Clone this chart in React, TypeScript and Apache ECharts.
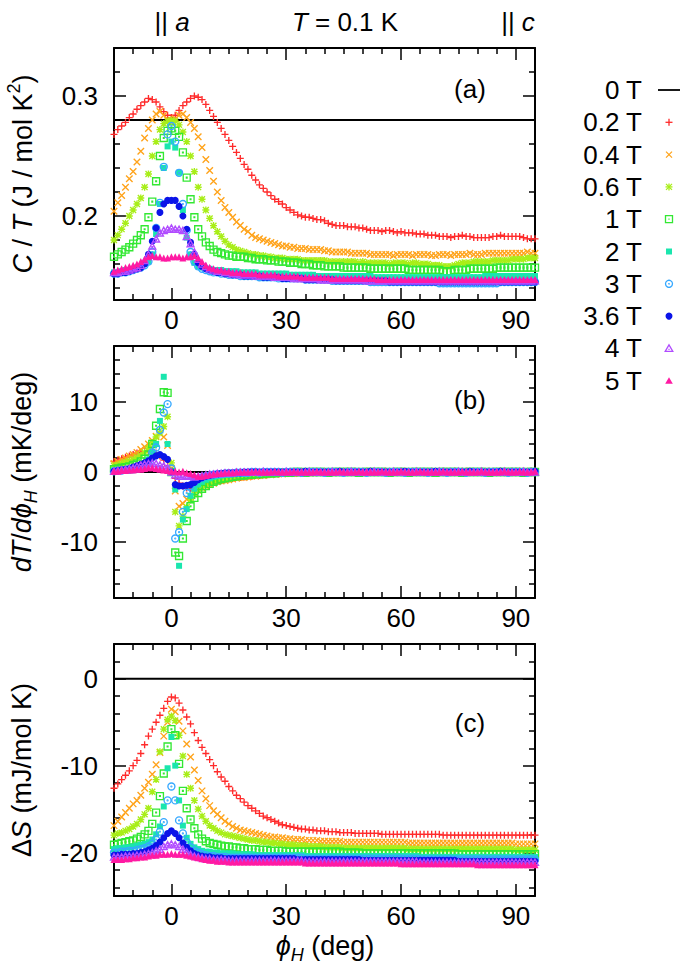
import React, { useEffect, useRef } from "react";
import * as echarts from "echarts";

const FONT = '"Liberation Sans", Arial, Helvetica, sans-serif';

const phi = [
  -15, -14, -13, -12, -11, -10, -9, -8, -7, -6, -5, -4, -3, -2, -1,
  0, 1, 2, 3, 4, 5, 6, 7, 8, 9, 10, 11, 12, 13, 14,
  15, 16, 17, 18, 19, 20, 21, 22, 23, 24, 25, 26, 27, 28, 29,
  30, 31, 32, 33, 34, 35, 36, 37, 38, 39, 40, 41, 42, 43, 44,
  45, 46, 47, 48, 49, 50, 51, 52, 53, 54, 55, 56, 57, 58, 59,
  60, 61, 62, 63, 64, 65, 66, 67, 68, 69, 70, 71, 72, 73, 74,
  75, 76, 77, 78, 79, 80, 81, 82, 83, 84, 85, 86, 87, 88, 89,
  90, 91, 92, 93, 94, 95,
];

const fields = ["0 T", "0.2 T", "0.4 T", "0.6 T", "1 T", "2 T", "3 T", "3.6 T", "4 T", "5 T"];
const colors = ["#000000", "#ff2b2b", "#ffa31a", "#a8ee18", "#33e833", "#1ae6ae", "#35a8ff", "#0b14e8", "#b14cff", "#ff1aa3"];

const xMajor = [0, 30, 60, 90];
const xMinor = [-10, -5, 5, 10, 15, 20, 25, 35, 40, 45, 50, 55, 65, 70, 75, 80, 85];
const yMajorA = [0.2, 0.3];
const yMinorA = [0.14, 0.16, 0.18, 0.22, 0.24, 0.26, 0.28, 0.32];
const yMajorB = [-10, 0, 10];
const yMinorB = [-16, -14, -12, -8, -6, -4, -2, 2, 4, 6, 8, 12, 14, 16];
const yMajorC = [-20, -10, 0];
const yMinorC = [-24, -22, -18, -16, -14, -12, -8, -6, -4, -2, 2];

const zeroPhi = [-15, 95];
const zeroA = [0.28, 0.28];
const zeroB = [0, 0];
const zeroC = [0, 0];

// Panel (a): C/T (J / mol K^2)
const cA02 = [
  0.268, 0.272, 0.275, 0.278, 0.282, 0.285, 0.289, 0.292, 0.295, 0.298, 0.297, 0.295, 0.291, 0.287, 0.284,
  0.282, 0.284, 0.288, 0.292, 0.295, 0.298, 0.300, 0.299, 0.297, 0.293, 0.288, 0.283, 0.278, 0.273, 0.268,
  0.263, 0.258, 0.253, 0.248, 0.243, 0.239, 0.234, 0.230, 0.226, 0.223, 0.220, 0.217, 0.214, 0.212, 0.210,
  0.207, 0.205, 0.203, 0.201, 0.200, 0.199, 0.199, 0.198, 0.197, 0.197, 0.196, 0.194, 0.193, 0.192, 0.192,
  0.192, 0.191, 0.191, 0.191, 0.190, 0.190, 0.189, 0.188, 0.188, 0.188, 0.187, 0.188, 0.188, 0.187, 0.186,
  0.187, 0.186, 0.186, 0.186, 0.185, 0.185, 0.185, 0.184, 0.184, 0.184, 0.183, 0.183, 0.183, 0.182, 0.183,
  0.183, 0.184, 0.183, 0.183, 0.182, 0.182, 0.182, 0.182, 0.182, 0.183, 0.183, 0.184, 0.183, 0.183, 0.183,
  0.183, 0.183, 0.182, 0.181, 0.181, 0.181,
];
const cA04 = [
  0.204, 0.211, 0.217, 0.224, 0.231, 0.237, 0.245, 0.254, 0.265, 0.273, 0.280, 0.285, 0.287, 0.284, 0.280,
  0.278, 0.281, 0.284, 0.285, 0.282, 0.278, 0.273, 0.266, 0.257, 0.247, 0.238, 0.229, 0.220, 0.213, 0.207,
  0.203, 0.199, 0.195, 0.192, 0.189, 0.187, 0.184, 0.182, 0.181, 0.180, 0.179, 0.178, 0.177, 0.176, 0.175,
  0.175, 0.174, 0.174, 0.173, 0.173, 0.173, 0.172, 0.172, 0.172, 0.172, 0.171, 0.171, 0.170, 0.170, 0.170,
  0.170, 0.170, 0.169, 0.169, 0.169, 0.169, 0.169, 0.168, 0.168, 0.168, 0.168, 0.168, 0.168, 0.167, 0.168,
  0.168, 0.168, 0.168, 0.167, 0.168, 0.168, 0.168, 0.168, 0.167, 0.167, 0.168, 0.168, 0.168, 0.167, 0.168,
  0.168, 0.168, 0.168, 0.169, 0.168, 0.168, 0.168, 0.169, 0.169, 0.169, 0.169, 0.169, 0.169, 0.169, 0.169,
  0.169, 0.169, 0.169, 0.170, 0.169, 0.169,
];
const cA06 = [
  0.180, 0.184, 0.189, 0.194, 0.200, 0.205, 0.210, 0.215, 0.224, 0.235, 0.250, 0.262, 0.272, 0.277, 0.279,
  0.280, 0.279, 0.276, 0.270, 0.262, 0.250, 0.237, 0.224, 0.214, 0.205, 0.198, 0.192, 0.187, 0.183, 0.179,
  0.176, 0.174, 0.172, 0.171, 0.170, 0.169, 0.168, 0.168, 0.167, 0.167, 0.166, 0.166, 0.165, 0.165, 0.165,
  0.164, 0.164, 0.164, 0.164, 0.163, 0.163, 0.163, 0.163, 0.163, 0.163, 0.163, 0.162, 0.162, 0.162, 0.162,
  0.162, 0.162, 0.162, 0.162, 0.161, 0.162, 0.161, 0.161, 0.161, 0.161, 0.161, 0.161, 0.160, 0.161, 0.161,
  0.161, 0.161, 0.160, 0.161, 0.161, 0.160, 0.160, 0.160, 0.159, 0.159, 0.159, 0.158, 0.158, 0.158, 0.159,
  0.160, 0.161, 0.161, 0.161, 0.162, 0.162, 0.162, 0.162, 0.162, 0.163, 0.163, 0.163, 0.163, 0.163, 0.164,
  0.164, 0.164, 0.164, 0.165, 0.165, 0.165,
];
const cA1 = [
  0.166, 0.168, 0.170, 0.172, 0.174, 0.177, 0.180, 0.184, 0.189, 0.199, 0.212, 0.229, 0.250, 0.265, 0.271,
  0.273, 0.271, 0.266, 0.253, 0.232, 0.214, 0.199, 0.189, 0.183, 0.178, 0.175, 0.172, 0.170, 0.169, 0.168,
  0.167, 0.167, 0.166, 0.166, 0.166, 0.165, 0.165, 0.164, 0.164, 0.164, 0.163, 0.163, 0.163, 0.162, 0.162,
  0.162, 0.161, 0.161, 0.161, 0.160, 0.160, 0.160, 0.159, 0.159, 0.159, 0.158, 0.158, 0.158, 0.158, 0.158,
  0.157, 0.157, 0.157, 0.157, 0.157, 0.157, 0.157, 0.156, 0.156, 0.156, 0.156, 0.156, 0.156, 0.156, 0.156,
  0.156, 0.156, 0.155, 0.155, 0.155, 0.155, 0.155, 0.155, 0.155, 0.155, 0.155, 0.154, 0.154, 0.154, 0.155,
  0.155, 0.155, 0.155, 0.156, 0.156, 0.156, 0.156, 0.156, 0.156, 0.156, 0.157, 0.157, 0.157, 0.157, 0.157,
  0.157, 0.157, 0.157, 0.157, 0.157, 0.157,
];
const cA2 = [
  0.153, 0.153, 0.154, 0.155, 0.155, 0.156, 0.157, 0.158, 0.160, 0.162, 0.168, 0.185, 0.210, 0.240, 0.258,
  0.262, 0.257, 0.236, 0.205, 0.182, 0.168, 0.161, 0.158, 0.157, 0.156, 0.156, 0.155, 0.155, 0.155, 0.154,
  0.154, 0.154, 0.154, 0.153, 0.153, 0.153, 0.153, 0.153, 0.152, 0.152, 0.152, 0.152, 0.152, 0.152, 0.152,
  0.152, 0.151, 0.151, 0.151, 0.151, 0.151, 0.151, 0.151, 0.150, 0.150, 0.150, 0.150, 0.150, 0.150, 0.150,
  0.150, 0.150, 0.150, 0.150, 0.150, 0.150, 0.150, 0.150, 0.149, 0.149, 0.149, 0.149, 0.149, 0.149, 0.149,
  0.149, 0.149, 0.149, 0.149, 0.149, 0.149, 0.149, 0.149, 0.149, 0.149, 0.149, 0.149, 0.149, 0.149, 0.149,
  0.149, 0.149, 0.149, 0.149, 0.149, 0.149, 0.149, 0.150, 0.150, 0.150, 0.150, 0.150, 0.150, 0.150, 0.150,
  0.150, 0.150, 0.150, 0.150, 0.150, 0.150,
];
const cA3 = [
  0.152, 0.152, 0.153, 0.153, 0.154, 0.155, 0.156, 0.157, 0.159, 0.162, 0.170, 0.190, 0.211, 0.241, 0.268,
  0.275, 0.262, 0.236, 0.210, 0.188, 0.170, 0.162, 0.158, 0.156, 0.155, 0.154, 0.153, 0.153, 0.152, 0.152,
  0.151, 0.151, 0.151, 0.150, 0.150, 0.150, 0.150, 0.150, 0.149, 0.149, 0.149, 0.149, 0.149, 0.148, 0.148,
  0.148, 0.148, 0.148, 0.148, 0.148, 0.147, 0.147, 0.147, 0.147, 0.147, 0.147, 0.147, 0.146, 0.146, 0.146,
  0.146, 0.146, 0.146, 0.146, 0.146, 0.146, 0.146, 0.145, 0.145, 0.145, 0.145, 0.145, 0.145, 0.145, 0.145,
  0.145, 0.145, 0.145, 0.145, 0.145, 0.145, 0.145, 0.145, 0.145, 0.145, 0.144, 0.144, 0.144, 0.144, 0.144,
  0.144, 0.144, 0.144, 0.144, 0.144, 0.144, 0.144, 0.144, 0.144, 0.144, 0.144, 0.145, 0.145, 0.145, 0.145,
  0.145, 0.145, 0.145, 0.145, 0.145, 0.145,
];
const cA36 = [
  0.152, 0.152, 0.153, 0.153, 0.154, 0.155, 0.156, 0.157, 0.160, 0.168, 0.179, 0.190, 0.203, 0.210, 0.213,
  0.213, 0.213, 0.208, 0.200, 0.189, 0.178, 0.168, 0.161, 0.158, 0.156, 0.155, 0.154, 0.153, 0.153, 0.152,
  0.152, 0.151, 0.151, 0.151, 0.150, 0.150, 0.150, 0.150, 0.150, 0.149, 0.149, 0.149, 0.149, 0.149, 0.148,
  0.148, 0.148, 0.148, 0.148, 0.148, 0.147, 0.147, 0.147, 0.147, 0.147, 0.147, 0.147, 0.147, 0.146, 0.146,
  0.146, 0.146, 0.146, 0.146, 0.146, 0.146, 0.146, 0.146, 0.146, 0.146, 0.146, 0.146, 0.145, 0.145, 0.145,
  0.145, 0.145, 0.145, 0.145, 0.145, 0.145, 0.145, 0.145, 0.145, 0.145, 0.145, 0.145, 0.145, 0.145, 0.145,
  0.145, 0.145, 0.145, 0.145, 0.145, 0.145, 0.145, 0.145, 0.145, 0.145, 0.145, 0.145, 0.145, 0.145, 0.145,
  0.145, 0.145, 0.145, 0.145, 0.145, 0.145,
];
const cA4 = [
  0.153, 0.153, 0.154, 0.154, 0.155, 0.156, 0.157, 0.159, 0.163, 0.168, 0.175, 0.181, 0.186, 0.188, 0.189,
  0.190, 0.189, 0.189, 0.188, 0.183, 0.177, 0.170, 0.164, 0.160, 0.158, 0.156, 0.155, 0.154, 0.154, 0.153,
  0.153, 0.152, 0.152, 0.151, 0.151, 0.151, 0.151, 0.150, 0.150, 0.150, 0.150, 0.150, 0.149, 0.149, 0.149,
  0.149, 0.149, 0.148, 0.148, 0.148, 0.148, 0.148, 0.148, 0.148, 0.147, 0.147, 0.147, 0.147, 0.147, 0.147,
  0.147, 0.147, 0.147, 0.147, 0.147, 0.147, 0.146, 0.146, 0.146, 0.146, 0.146, 0.146, 0.146, 0.146, 0.146,
  0.146, 0.146, 0.146, 0.146, 0.146, 0.146, 0.146, 0.146, 0.146, 0.146, 0.146, 0.146, 0.146, 0.146, 0.146,
  0.146, 0.146, 0.146, 0.146, 0.146, 0.146, 0.146, 0.146, 0.146, 0.146, 0.146, 0.146, 0.146, 0.146, 0.146,
  0.146, 0.146, 0.146, 0.146, 0.146, 0.146,
];
const cA5 = [
  0.154, 0.155, 0.156, 0.157, 0.158, 0.159, 0.160, 0.162, 0.164, 0.166, 0.167, 0.166, 0.166, 0.165, 0.165,
  0.166, 0.166, 0.166, 0.165, 0.166, 0.166, 0.167, 0.165, 0.162, 0.159, 0.157, 0.156, 0.155, 0.155, 0.154,
  0.154, 0.153, 0.153, 0.153, 0.152, 0.152, 0.152, 0.152, 0.151, 0.151, 0.151, 0.151, 0.151, 0.150, 0.150,
  0.150, 0.150, 0.150, 0.150, 0.149, 0.149, 0.149, 0.149, 0.149, 0.149, 0.149, 0.149, 0.148, 0.148, 0.148,
  0.148, 0.148, 0.148, 0.148, 0.148, 0.148, 0.148, 0.148, 0.148, 0.147, 0.147, 0.147, 0.147, 0.147, 0.147,
  0.147, 0.147, 0.147, 0.147, 0.147, 0.147, 0.147, 0.147, 0.147, 0.147, 0.147, 0.147, 0.147, 0.147, 0.147,
  0.147, 0.147, 0.147, 0.147, 0.147, 0.147, 0.147, 0.147, 0.147, 0.147, 0.147, 0.147, 0.147, 0.147, 0.147,
  0.147, 0.147, 0.147, 0.147, 0.147, 0.147,
];

// Panel (b): dT/dphi_H (mK/deg)
const dB02 = [
  1.5, 1.7, 1.9, 2.1, 2.3, 2.5, 2.7, 2.8, 2.9, 3.0, 2.9, 2.7, 2.3, 1.7, 0.9,
  0.0, -0.9, -1.6, -2.0, -2.3, -2.4, -2.3, -2.2, -2.0, -1.8, -1.6, -1.4, -1.3, -1.2, -1.1,
  -1.0, -0.9, -0.8, -0.8, -0.7, -0.6, -0.6, -0.5, -0.5, -0.4, -0.4, -0.3, -0.3, -0.3, -0.2,
  -0.2, -0.2, -0.2, -0.1, -0.1, -0.1, -0.1, -0.1, -0.1, 0.0, 0.0, -0.1, 0.0, 0.0, 0.0,
  0.0, 0.1, 0.0, 0.0, -0.1, 0.0, 0.0, 0.1, 0.0, 0.0, 0.0, 0.1, 0.0, 0.0, 0.0,
  0.1, 0.0, 0.0, 0.0, 0.1, 0.0, 0.0, 0.0, 0.1, 0.0, 0.0, 0.1, 0.0, 0.0, 0.1,
  0.0, 0.0, 0.1, 0.0, 0.0, 0.0, 0.1, 0.0, 0.1, 0.0, 0.0, 0.1, 0.0, 0.0, 0.1,
  0.0, 0.1, 0.0, 0.0, 0.1, 0.0,
];
const dB04 = [
  1.2, 1.5, 1.8, 2.0, 2.3, 2.5, 2.8, 3.2, 3.6, 4.0, 4.5, 5.1, 5.5, 5.0, 3.8,
  0.5, -2.7, -4.9, -4.5, -3.9, -3.5, -3.0, -2.6, -2.3, -2.0, -1.8, -1.6, -1.4, -1.3, -1.2,
  -1.1, -1.0, -0.9, -0.8, -0.8, -0.7, -0.6, -0.6, -0.5, -0.5, -0.4, -0.4, -0.3, -0.3, -0.3,
  -0.2, -0.2, -0.2, -0.2, -0.1, -0.1, -0.1, -0.1, 0.0, 0.0, 0.0, -0.1, 0.0, 0.0, 0.0,
  0.0, 0.0, 0.1, 0.0, 0.0, 0.0, 0.0, 0.1, 0.0, 0.0, 0.1, 0.0, 0.0, 0.0, 0.1,
  0.0, 0.0, 0.1, 0.0, 0.0, 0.1, 0.0, 0.0, 0.0, 0.1, 0.0, 0.0, 0.1, 0.0, 0.0,
  0.1, 0.0, 0.0, 0.1, 0.0, 0.0, 0.0, 0.1, 0.0, 0.0, 0.1, 0.0, 0.0, 0.1, 0.0,
  0.0, 0.1, 0.0, 0.1, 0.0, 0.0,
];
const dB06 = [
  0.9, 1.0, 1.2, 1.4, 1.6, 1.8, 2.1, 2.4, 2.8, 3.4, 4.2, 5.0, 5.6, 6.5, 7.9,
  1.3, -5.7, -7.7, -6.3, -5.0, -4.0, -3.2, -2.6, -2.2, -1.9, -1.6, -1.4, -1.2, -1.0, -0.9,
  -0.8, -0.7, -0.7, -0.6, -0.5, -0.5, -0.4, -0.4, -0.3, -0.3, -0.3, -0.2, -0.2, -0.2, -0.1,
  -0.1, -0.1, -0.1, -0.1, 0.0, 0.0, 0.0, -0.1, 0.0, 0.0, 0.0, 0.0, 0.0, -0.1, 0.0,
  0.0, 0.0, 0.0, 0.1, 0.0, 0.0, 0.0, 0.0, 0.0, 0.1, 0.0, 0.0, 0.0, -0.1, 0.0,
  0.0, 0.0, 0.0, 0.1, 0.0, 0.0, -0.1, 0.0, 0.0, 0.0, 0.1, 0.0, 0.0, 0.0, 0.0,
  0.0, 0.1, 0.0, 0.0, 0.0, 0.0, 0.1, 0.0, 0.0, 0.0, 0.0, 0.1, 0.0, 0.0, 0.0,
  0.1, 0.0, 0.0, 0.0, 0.1, 0.0,
];
const dB1 = [
  0.4, 0.5, 0.6, 0.7, 0.8, 1.0, 1.2, 1.5, 1.9, 2.5, 4.0, 6.6, 9.0, 11.4, 11.3,
  0.0, -11.5, -12.0, -9.5, -7.0, -4.9, -3.7, -3.0, -2.4, -2.0, -1.7, -1.4, -1.2, -1.0, -0.9,
  -0.8, -0.7, -0.6, -0.5, -0.5, -0.4, -0.4, -0.3, -0.3, -0.3, -0.2, -0.2, -0.2, -0.1, -0.1,
  -0.1, -0.1, 0.0, 0.0, 0.0, -0.1, 0.0, 0.0, 0.0, 0.0, 0.0, -0.1, 0.0, 0.0, 0.0,
  0.0, 0.0, 0.0, 0.0, -0.1, 0.0, 0.0, 0.0, 0.0, 0.0, 0.0, 0.0, -0.1, 0.0, 0.0,
  0.0, 0.0, -0.1, 0.0, 0.0, 0.0, 0.0, 0.0, 0.0, -0.1, 0.0, 0.0, 0.0, 0.0, 0.0,
  0.0, -0.1, 0.0, 0.0, 0.0, 0.0, 0.0, 0.0, -0.1, 0.0, 0.0, 0.0, 0.0, 0.0, 0.0,
  0.0, 0.0, -0.1, 0.0, 0.0, 0.0,
];
const dB2 = [
  0.2, 0.3, 0.3, 0.4, 0.5, 0.6, 0.7, 0.9, 1.2, 1.8, 2.8, 4.0, 7.3, 13.6, 4.0,
  0.0, -2.5, -13.4, -6.8, -5.3, -3.4, -2.4, -1.8, -1.4, -1.1, -0.9, -0.7, -0.6, -0.5, -0.4,
  -0.4, -0.3, -0.3, -0.2, -0.2, -0.2, -0.1, -0.1, -0.1, 0.0, 0.0, -0.1, 0.0, 0.0, 0.0,
  0.0, 0.0, -0.1, 0.0, 0.0, 0.0, 0.0, -0.1, 0.0, 0.0, 0.0, 0.0, 0.0, -0.1, 0.0,
  0.0, 0.0, 0.0, -0.1, 0.0, 0.0, 0.0, 0.0, 0.0, -0.1, 0.0, 0.0, 0.0, 0.0, -0.1,
  0.0, 0.0, 0.0, 0.0, -0.1, 0.0, 0.0, 0.0, 0.0, 0.0, -0.1, 0.0, 0.0, 0.0, 0.0,
  -0.1, 0.0, 0.0, 0.0, 0.0, -0.1, 0.0, 0.0, 0.0, 0.0, 0.0, -0.1, 0.0, 0.0, 0.0,
  0.0, -0.1, 0.0, 0.0, 0.0, 0.0,
];
const dB3 = [
  0.1, 0.2, 0.2, 0.3, 0.3, 0.4, 0.5, 0.7, 0.9, 1.4, 2.8, 3.5, 6.0, 8.5, 9.7,
  0.5, -9.5, -8.6, -5.7, -3.0, -2.0, -1.4, -1.0, -0.8, -0.6, -0.5, -0.4, -0.3, -0.3, -0.2,
  -0.2, -0.2, -0.1, -0.1, -0.1, -0.1, 0.0, 0.0, -0.1, 0.0, 0.0, 0.0, 0.0, 0.0, -0.1,
  0.0, 0.0, 0.0, 0.0, -0.1, 0.0, 0.0, 0.0, 0.0, 0.0, -0.1, 0.0, 0.0, 0.0, 0.0,
  -0.1, 0.0, 0.0, 0.0, 0.0, 0.0, -0.1, 0.0, 0.0, 0.0, 0.0, -0.1, 0.0, 0.0, 0.0,
  0.0, -0.1, 0.0, 0.0, 0.0, 0.0, 0.0, -0.1, 0.0, 0.0, 0.0, 0.0, -0.1, 0.0, 0.0,
  0.0, 0.0, -0.1, 0.0, 0.0, 0.0, 0.0, -0.1, 0.0, 0.0, 0.0, 0.0, 0.0, -0.1, 0.0,
  0.0, 0.0, 0.0, -0.1, 0.0, 0.0,
];
const dB36 = [
  0.1, 0.2, 0.3, 0.4, 0.5, 0.7, 0.9, 1.1, 1.3, 1.6, 2.0, 2.3, 2.5, 2.2, 1.8,
  0.0, -1.8, -2.0, -2.0, -1.9, -1.8, -1.5, -1.1, -0.8, -0.6, -0.5, -0.4, -0.3, -0.2, -0.2,
  -0.1, -0.1, -0.1, -0.1, 0.0, 0.0, 0.0, 0.0, 0.0, 0.0, 0.0, 0.0, 0.0, 0.0, 0.0,
  0.0, 0.0, 0.0, 0.0, 0.0, 0.1, 0.0, 0.0, 0.0, 0.0, 0.0, 0.0, 0.0, 0.0, 0.1,
  0.0, 0.0, 0.0, 0.0, 0.0, 0.0, 0.0, 0.1, 0.0, 0.0, 0.0, 0.0, 0.0, 0.0, 0.0,
  0.0, 0.1, 0.0, 0.0, 0.0, 0.0, 0.0, 0.0, 0.0, 0.1, 0.0, 0.0, 0.0, 0.0, 0.0,
  0.0, 0.0, 0.0, 0.1, 0.0, 0.0, 0.0, 0.0, 0.0, 0.0, 0.0, 0.1, 0.0, 0.0, 0.0,
  0.0, 0.0, 0.0, 0.0, 0.0, 0.1,
];
const dB4 = [
  0.1, 0.2, 0.3, 0.4, 0.5, 0.6, 0.8, 1.0, 1.1, 1.2, 1.3, 1.2, 1.0, 0.9, 0.6,
  0.0, -0.4, -0.6, -0.6, -0.5, -0.6, -0.7, -0.6, -0.5, -0.4, -0.3, -0.3, -0.2, -0.2, -0.1,
  -0.1, -0.1, 0.0, 0.0, 0.0, 0.0, 0.0, 0.0, 0.0, 0.1, 0.0, 0.0, 0.0, 0.0, 0.0,
  0.1, 0.0, 0.0, 0.0, 0.0, 0.0, 0.1, 0.0, 0.0, 0.0, 0.0, 0.0, 0.1, 0.0, 0.0,
  0.0, 0.0, 0.1, 0.0, 0.0, 0.0, 0.0, 0.0, 0.1, 0.0, 0.0, 0.0, 0.0, 0.1, 0.0,
  0.0, 0.0, 0.0, 0.0, 0.1, 0.0, 0.0, 0.0, 0.0, 0.0, 0.1, 0.0, 0.0, 0.0, 0.0,
  0.1, 0.0, 0.0, 0.0, 0.0, 0.0, 0.1, 0.0, 0.0, 0.0, 0.0, 0.0, 0.1, 0.0, 0.0,
  0.0, 0.0, 0.1, 0.0, 0.0, 0.0,
];
const dB5 = [
  0.1, 0.1, 0.2, 0.2, 0.3, 0.3, 0.4, 0.4, 0.5, 0.6, 0.6, 0.5, 0.4, 0.3, 0.2,
  0.1, 0.1, 0.0, 0.1, -0.1, -0.2, -0.4, -0.6, -0.6, -0.5, -0.4, -0.3, -0.2, -0.2, -0.1,
  -0.1, -0.1, 0.0, 0.0, 0.0, 0.0, 0.0, 0.1, 0.0, 0.0, 0.0, 0.0, 0.1, 0.0, 0.0,
  0.0, 0.0, 0.1, 0.0, 0.0, 0.0, 0.0, 0.0, 0.1, 0.0, 0.0, 0.0, 0.0, 0.0, 0.1,
  0.0, 0.0, 0.0, 0.0, 0.1, 0.0, 0.0, 0.0, 0.0, 0.0, 0.1, 0.0, 0.0, 0.0, 0.0,
  0.1, 0.0, 0.0, 0.0, 0.0, 0.1, 0.0, 0.0, 0.0, 0.0, 0.0, 0.1, 0.0, 0.0, 0.0,
  0.0, 0.1, 0.0, 0.0, 0.0, 0.0, 0.1, 0.0, 0.0, 0.0, 0.0, 0.0, 0.1, 0.0, 0.0,
  0.0, 0.1, 0.0, 0.0, 0.0, 0.1,
];

// Panel (c): Delta S (mJ/mol K)
const sC02 = [
  -12.6, -12.1, -11.6, -11.1, -10.6, -10.0, -9.4, -8.6, -7.6, -6.6, -5.8, -5.0, -4.2, -3.4, -2.6,
  -2.1, -2.2, -2.8, -3.6, -4.4, -5.2, -6.2, -7.1, -7.9, -8.6, -9.3, -10.0, -10.7, -11.3, -11.8,
  -12.4, -12.9, -13.4, -13.8, -14.2, -14.6, -14.9, -15.2, -15.5, -15.8, -16.0, -16.2, -16.4, -16.6, -16.8,
  -16.9, -17.0, -17.1, -17.2, -17.3, -17.3, -17.4, -17.4, -17.5, -17.5, -17.5, -17.6, -17.6, -17.6, -17.7,
  -17.7, -17.7, -17.7, -17.8, -17.8, -17.8, -17.8, -17.8, -17.8, -17.8, -17.9, -17.9, -17.9, -17.9, -17.9,
  -17.9, -17.9, -17.9, -17.9, -17.9, -17.9, -17.9, -17.9, -17.9, -17.9, -17.9, -18.0, -18.0, -18.0, -18.0,
  -18.0, -18.0, -18.0, -18.0, -18.0, -18.0, -18.0, -18.0, -18.0, -18.0, -18.0, -18.0, -18.0, -18.0, -18.0,
  -18.0, -18.0, -18.0, -18.0, -18.0, -18.0,
];
const sC04 = [
  -16.9, -16.4, -15.9, -15.4, -14.9, -14.4, -14.0, -13.4, -12.6, -11.9, -11.0, -9.9, -8.5, -6.6, -5.0,
  -3.5, -3.8, -4.9, -6.0, -7.5, -9.0, -10.5, -11.7, -12.9, -13.8, -14.6, -15.2, -15.6, -16.0, -16.4,
  -16.7, -17.0, -17.2, -17.4, -17.5, -17.6, -17.7, -17.8, -17.9, -18.0, -18.1, -18.2, -18.2, -18.3, -18.3,
  -18.4, -18.4, -18.5, -18.5, -18.5, -18.6, -18.6, -18.6, -18.6, -18.7, -18.7, -18.7, -18.7, -18.7, -18.7,
  -18.8, -18.8, -18.8, -18.8, -18.8, -18.8, -18.8, -18.8, -18.8, -18.8, -18.8, -18.8, -18.8, -18.8, -18.8,
  -18.8, -18.8, -18.9, -18.9, -18.9, -18.9, -18.9, -18.9, -18.9, -18.9, -18.9, -18.9, -18.9, -18.9, -18.9,
  -18.9, -18.9, -18.9, -18.9, -18.9, -18.9, -18.9, -18.9, -18.9, -18.9, -18.9, -18.9, -18.9, -18.9, -18.9,
  -19.0, -19.0, -19.0, -19.0, -19.0, -19.0,
];
const sC06 = [
  -18.0, -17.8, -17.7, -17.5, -17.3, -17.0, -16.7, -16.2, -15.6, -14.9, -13.0, -11.6, -8.4, -5.8, -4.7,
  -4.3, -4.8, -6.5, -8.9, -11.0, -12.6, -14.0, -15.0, -15.8, -16.4, -16.9, -17.2, -17.5, -17.7, -17.9,
  -18.0, -18.1, -18.2, -18.3, -18.4, -18.5, -18.6, -18.6, -18.7, -18.8, -18.8, -18.9, -18.9, -19.0, -19.0,
  -19.1, -19.1, -19.1, -19.2, -19.2, -19.2, -19.3, -19.3, -19.3, -19.3, -19.4, -19.4, -19.4, -19.4, -19.4,
  -19.5, -19.5, -19.5, -19.5, -19.5, -19.5, -19.5, -19.5, -19.5, -19.5, -19.5, -19.5, -19.5, -19.5, -19.5,
  -19.5, -19.5, -19.6, -19.6, -19.6, -19.6, -19.6, -19.6, -19.6, -19.6, -19.6, -19.6, -19.6, -19.6, -19.6,
  -19.6, -19.6, -19.6, -19.6, -19.6, -19.6, -19.6, -19.6, -19.6, -19.6, -19.6, -19.6, -19.6, -19.6, -19.6,
  -19.7, -19.7, -19.7, -19.7, -19.7, -19.7,
];
const sC1 = [
  -19.1, -19.0, -18.9, -18.8, -18.7, -18.6, -18.4, -18.2, -17.9, -17.5, -16.7, -15.4, -13.5, -10.9, -7.8,
  -5.8, -6.5, -9.8, -12.9, -14.9, -16.2, -17.2, -17.9, -18.4, -18.7, -18.9, -19.0, -19.1, -19.2, -19.3,
  -19.3, -19.4, -19.4, -19.5, -19.5, -19.6, -19.6, -19.6, -19.7, -19.7, -19.7, -19.8, -19.8, -19.8, -19.8,
  -19.9, -19.9, -19.9, -19.9, -19.9, -19.9, -19.9, -19.9, -19.9, -19.9, -19.9, -19.9, -19.9, -19.9, -19.9,
  -20.0, -20.0, -20.0, -20.0, -20.0, -20.1, -20.1, -20.1, -20.1, -20.1, -20.1, -20.1, -20.1, -20.1, -20.1,
  -20.1, -20.1, -20.1, -20.1, -20.1, -20.1, -20.1, -20.1, -20.1, -20.1, -20.1, -20.1, -20.1, -20.1, -20.1,
  -20.2, -20.2, -20.2, -20.2, -20.2, -20.2, -20.2, -20.2, -20.2, -20.2, -20.2, -20.2, -20.2, -20.2, -20.2,
  -20.2, -20.2, -20.2, -20.2, -20.2, -20.2,
];
const sC2 = [
  -19.6, -19.5, -19.5, -19.4, -19.4, -19.3, -19.2, -19.1, -19.0, -18.8, -18.5, -17.9, -17.0, -14.7, -10.3,
  -6.7, -10.0, -14.0, -16.9, -18.3, -19.0, -19.4, -19.6, -19.8, -19.9, -19.9, -20.0, -20.0, -20.1, -20.1,
  -20.1, -20.1, -20.2, -20.2, -20.2, -20.2, -20.2, -20.3, -20.3, -20.3, -20.3, -20.3, -20.3, -20.3, -20.3,
  -20.3, -20.3, -20.3, -20.3, -20.3, -20.4, -20.4, -20.4, -20.4, -20.4, -20.4, -20.4, -20.4, -20.4, -20.4,
  -20.4, -20.4, -20.4, -20.4, -20.4, -20.4, -20.4, -20.4, -20.4, -20.4, -20.4, -20.4, -20.4, -20.4, -20.4,
  -20.4, -20.4, -20.4, -20.4, -20.4, -20.5, -20.5, -20.5, -20.5, -20.5, -20.5, -20.5, -20.5, -20.5, -20.5,
  -20.5, -20.5, -20.5, -20.5, -20.5, -20.5, -20.5, -20.5, -20.5, -20.5, -20.5, -20.5, -20.5, -20.5, -20.5,
  -20.5, -20.5, -20.5, -20.5, -20.5, -20.5,
];
const sC3 = [
  -20.0, -20.0, -19.9, -19.9, -19.8, -19.8, -19.7, -19.6, -19.5, -19.3, -19.0, -18.5, -17.6, -16.5, -14.0,
  -12.4, -14.0, -16.3, -17.8, -18.8, -19.4, -19.8, -20.0, -20.2, -20.3, -20.4, -20.4, -20.5, -20.5, -20.5,
  -20.6, -20.6, -20.6, -20.6, -20.6, -20.6, -20.6, -20.6, -20.6, -20.6, -20.6, -20.6, -20.6, -20.6, -20.6,
  -20.6, -20.6, -20.6, -20.6, -20.6, -20.7, -20.7, -20.7, -20.7, -20.7, -20.7, -20.7, -20.7, -20.7, -20.7,
  -20.7, -20.7, -20.7, -20.7, -20.7, -20.7, -20.7, -20.7, -20.7, -20.7, -20.7, -20.7, -20.7, -20.7, -20.7,
  -20.7, -20.7, -20.7, -20.7, -20.7, -20.8, -20.8, -20.8, -20.8, -20.8, -20.8, -20.8, -20.8, -20.8, -20.8,
  -20.8, -20.8, -20.8, -20.8, -20.8, -20.8, -20.8, -20.8, -20.8, -20.8, -20.8, -20.8, -20.8, -20.8, -20.8,
  -20.8, -20.8, -20.8, -20.8, -20.8, -20.8,
];
const sC36 = [
  -20.3, -20.3, -20.2, -20.2, -20.2, -20.1, -20.1, -20.0, -19.9, -19.7, -19.5, -19.2, -18.8, -18.3, -17.8,
  -17.5, -17.8, -18.3, -18.9, -19.4, -19.8, -20.1, -20.3, -20.4, -20.5, -20.5, -20.6, -20.6, -20.6, -20.7,
  -20.7, -20.7, -20.7, -20.7, -20.7, -20.7, -20.7, -20.7, -20.7, -20.7, -20.7, -20.7, -20.7, -20.7, -20.7,
  -20.7, -20.7, -20.7, -20.8, -20.8, -20.8, -20.8, -20.8, -20.8, -20.8, -20.8, -20.8, -20.8, -20.8, -20.8,
  -20.8, -20.8, -20.8, -20.8, -20.8, -20.9, -20.9, -20.9, -20.9, -20.9, -20.9, -20.9, -20.9, -20.9, -20.9,
  -20.9, -20.9, -20.9, -20.9, -20.9, -20.9, -20.9, -20.9, -20.9, -20.9, -20.9, -20.9, -20.9, -20.9, -20.9,
  -21.0, -21.0, -21.0, -21.0, -21.0, -21.0, -21.0, -21.0, -21.0, -21.0, -21.0, -21.0, -21.0, -21.0, -21.0,
  -21.0, -21.0, -21.0, -21.0, -21.0, -21.0,
];
const sC4 = [
  -20.5, -20.5, -20.5, -20.4, -20.4, -20.4, -20.3, -20.3, -20.2, -20.1, -20.0, -19.8, -19.6, -19.3, -19.1,
  -19.0, -19.1, -19.3, -19.6, -19.9, -20.2, -20.4, -20.5, -20.6, -20.7, -20.7, -20.8, -20.8, -20.8, -20.8,
  -20.9, -20.9, -20.9, -20.9, -20.9, -20.9, -20.9, -20.9, -20.9, -20.9, -20.9, -20.9, -20.9, -20.9, -20.9,
  -20.9, -20.9, -20.9, -20.9, -20.9, -21.0, -21.0, -21.0, -21.0, -21.0, -21.0, -21.0, -21.0, -21.0, -21.0,
  -21.0, -21.0, -21.0, -21.0, -21.0, -21.0, -21.0, -21.0, -21.0, -21.0, -21.0, -21.0, -21.0, -21.0, -21.0,
  -21.0, -21.0, -21.0, -21.0, -21.0, -21.1, -21.1, -21.1, -21.1, -21.1, -21.1, -21.1, -21.1, -21.1, -21.1,
  -21.1, -21.1, -21.1, -21.1, -21.1, -21.1, -21.1, -21.1, -21.1, -21.1, -21.1, -21.1, -21.1, -21.1, -21.1,
  -21.1, -21.1, -21.1, -21.1, -21.1, -21.1,
];
const sC5 = [
  -20.8, -20.8, -20.8, -20.7, -20.7, -20.6, -20.6, -20.5, -20.5, -20.4, -20.3, -20.3, -20.2, -20.2, -20.2,
  -20.1, -20.2, -20.2, -20.2, -20.3, -20.4, -20.5, -20.6, -20.7, -20.8, -20.9, -20.9, -21.0, -21.0, -21.0,
  -21.1, -21.1, -21.1, -21.1, -21.1, -21.1, -21.1, -21.1, -21.1, -21.1, -21.1, -21.1, -21.1, -21.1, -21.1,
  -21.1, -21.1, -21.1, -21.1, -21.1, -21.2, -21.2, -21.2, -21.2, -21.2, -21.2, -21.2, -21.2, -21.2, -21.2,
  -21.2, -21.2, -21.2, -21.2, -21.2, -21.2, -21.2, -21.2, -21.2, -21.2, -21.2, -21.2, -21.2, -21.2, -21.2,
  -21.3, -21.3, -21.3, -21.3, -21.3, -21.3, -21.3, -21.3, -21.3, -21.3, -21.3, -21.3, -21.3, -21.3, -21.3,
  -21.3, -21.3, -21.3, -21.3, -21.3, -21.4, -21.4, -21.4, -21.4, -21.4, -21.4, -21.4, -21.4, -21.4, -21.4,
  -21.4, -21.4, -21.4, -21.4, -21.4, -21.4,
];

const panelA = [cA02, cA04, cA06, cA1, cA2, cA3, cA36, cA4, cA5];
const panelB = [dB02, dB04, dB06, dB1, dB2, dB3, dB36, dB4, dB5];
const panelC = [sC02, sC04, sC06, sC1, sC2, sC3, sC36, sC4, sC5];

// symbols for fields 0.2 T ... 5 T
const symPlus = "path://M5,0L5,10M0,5L10,5";
const symCross = "path://M0,0L10,10M10,0L0,10";
const symStar = "path://M5,0L5,10M0,5L10,5M0.8,0.8L9.2,9.2M9.2,0.8L0.8,9.2";
const symSquareDot = "path://M0,0L10,0L10,10L0,10Z M4.5,4.5L5.5,4.5L5.5,5.5L4.5,5.5Z";
const symCircleDot = "path://M0,5A5,5 0 1,0 10,5A5,5 0 1,0 0,5Z M4.4,5A0.6,0.6 0 1,0 5.6,5A0.6,0.6 0 1,0 4.4,5Z";
const symTriDot = "path://M5,0L10,9L0,9Z M4.5,5.5L5.5,5.5L5.5,6.5L4.5,6.5Z";
const symbolDefs = [
  { symbol: symPlus, open: true, size: 7 },
  { symbol: symCross, open: true, size: 6.5 },
  { symbol: symStar, open: true, size: 7 },
  { symbol: symSquareDot, open: true, size: 7 },
  { symbol: "rect", open: false, size: 6 },
  { symbol: symCircleDot, open: true, size: 7 },
  { symbol: "circle", open: false, size: 7 },
  { symbol: symTriDot, open: true, size: 7 },
  { symbol: "triangle", open: false, size: 7 },
];

const GRID_LEFT = 114;
const GRID_W = 421;
const GRID_H = 252;
const gridTops = [48, 346, 644];

function xAxes(g: number) {
  const base = { type: "value", gridIndex: g, min: -15, max: 95, splitLine: { show: false } };
  const line = { show: true, onZero: false, lineStyle: { color: "#000", width: 2 } };
  return [
    {
      ...base, position: "bottom", axisLine: line,
      axisTick: { show: true, inside: true, length: 12, customValues: xMajor, lineStyle: { color: "#000", width: 1.5 } },
      axisLabel: { show: true, customValues: xMajor, margin: 7, fontSize: 26, fontFamily: FONT, color: "#000" },
    },
    {
      ...base, position: "bottom", axisLine: { show: false, onZero: false },
      axisTick: { show: true, inside: true, length: 6, customValues: xMinor, lineStyle: { color: "#000", width: 1.5 } },
      axisLabel: { show: false },
    },
    {
      ...base, position: "top", axisLine: line,
      axisTick: { show: true, inside: true, length: 12, customValues: xMajor, lineStyle: { color: "#000", width: 1.5 } },
      axisLabel: { show: false },
    },
    {
      ...base, position: "top", axisLine: { show: false, onZero: false },
      axisTick: { show: true, inside: true, length: 6, customValues: xMinor, lineStyle: { color: "#000", width: 1.5 } },
      axisLabel: { show: false },
    },
  ];
}

function yAxes(g: number, min: number, max: number, major: number[], minor: number[], fmt: (v: number) => string) {
  const base = { type: "value", gridIndex: g, min, max, splitLine: { show: false } };
  const line = { show: true, onZero: false, lineStyle: { color: "#000", width: 2 } };
  return [
    {
      ...base, position: "left", axisLine: line,
      axisTick: { show: true, inside: true, length: 12, customValues: major, lineStyle: { color: "#000", width: 1.5 } },
      axisLabel: { show: true, customValues: major, margin: 16, fontSize: 26, fontFamily: FONT, color: "#000", formatter: fmt },
    },
    {
      ...base, position: "left", axisLine: { show: false, onZero: false },
      axisTick: { show: true, inside: true, length: 6, customValues: minor, lineStyle: { color: "#000", width: 1.5 } },
      axisLabel: { show: false },
    },
    {
      ...base, position: "right", axisLine: line,
      axisTick: { show: true, inside: true, length: 12, customValues: major, lineStyle: { color: "#000", width: 1.5 } },
      axisLabel: { show: false },
    },
    {
      ...base, position: "right", axisLine: { show: false, onZero: false },
      axisTick: { show: true, inside: true, length: 6, customValues: minor, lineStyle: { color: "#000", width: 1.5 } },
      axisLabel: { show: false },
    },
  ];
}

function legendMarker(k: number, cx: number, cy: number): any[] {
  const col = colors[k];
  const st = { stroke: col, lineWidth: 1.3, fill: "none" };
  const h = 3.5;
  switch (k) {
    case 0:
      return [{ type: "line", shape: { x1: cx - 11, y1: cy, x2: cx + 11, y2: cy }, style: { stroke: "#000", lineWidth: 1.8 } }];
    case 1:
      return [
        { type: "line", shape: { x1: cx - h, y1: cy, x2: cx + h, y2: cy }, style: st },
        { type: "line", shape: { x1: cx, y1: cy - h, x2: cx, y2: cy + h }, style: st },
      ];
    case 2:
      return [
        { type: "line", shape: { x1: cx - 3, y1: cy - 3, x2: cx + 3, y2: cy + 3 }, style: st },
        { type: "line", shape: { x1: cx + 3, y1: cy - 3, x2: cx - 3, y2: cy + 3 }, style: st },
      ];
    case 3:
      return [
        { type: "line", shape: { x1: cx - h, y1: cy, x2: cx + h, y2: cy }, style: st },
        { type: "line", shape: { x1: cx, y1: cy - h, x2: cx, y2: cy + h }, style: st },
        { type: "line", shape: { x1: cx - 3, y1: cy - 3, x2: cx + 3, y2: cy + 3 }, style: st },
        { type: "line", shape: { x1: cx + 3, y1: cy - 3, x2: cx - 3, y2: cy + 3 }, style: st },
      ];
    case 4:
      return [
        { type: "rect", shape: { x: cx - h, y: cy - h, width: 7, height: 7 }, style: st },
        { type: "rect", shape: { x: cx - 0.6, y: cy - 0.6, width: 1.2, height: 1.2 }, style: { fill: col } },
      ];
    case 5:
      return [{ type: "rect", shape: { x: cx - 3, y: cy - 3, width: 6, height: 6 }, style: { fill: col } }];
    case 6:
      return [
        { type: "circle", shape: { cx, cy, r: h }, style: st },
        { type: "circle", shape: { cx, cy, r: 0.8 }, style: { fill: col } },
      ];
    case 7:
      return [{ type: "circle", shape: { cx, cy, r: h }, style: { fill: col } }];
    case 8:
      return [
        { type: "polygon", shape: { points: [[cx, cy - 3.5], [cx + 3.8, cy + 3], [cx - 3.8, cy + 3]] }, style: st },
        { type: "rect", shape: { x: cx - 0.6, y: cy + 0.4, width: 1.2, height: 1.2 }, style: { fill: col } },
      ];
    default:
      return [{ type: "polygon", shape: { points: [[cx, cy - 3.5], [cx + 3.8, cy + 3], [cx - 3.8, cy + 3]] }, style: { fill: col } }];
  }
}

export default function App() {
  const ref = useRef<HTMLDivElement>(null);
  useEffect(() => {
    if (!ref.current) return;
    const chart = echarts.init(ref.current, undefined, { renderer: "svg" });

    const grid = gridTops.map((t) => ({ left: GRID_LEFT, top: t, width: GRID_W, height: GRID_H }));
    const xAxis = [...xAxes(0), ...xAxes(1), ...xAxes(2)];
    const yAxis = [
      ...yAxes(0, 0.13, 0.34, yMajorA, yMinorA, (v) => v.toFixed(1)),
      ...yAxes(1, -18, 18, yMajorB, yMinorB, (v) => String(v)),
      ...yAxes(2, -25, 4, yMajorC, yMinorC, (v) => String(v)),
    ];

    const panels = [
      { data: panelA, zero: zeroA },
      { data: panelB, zero: zeroB },
      { data: panelC, zero: zeroC },
    ];
    const series: any[] = [];
    panels.forEach((p, g) => {
      series.push({
        type: "line",
        xAxisIndex: 4 * g,
        yAxisIndex: 4 * g,
        data: zeroPhi.map((x, i) => [x, p.zero[i]]),
        symbol: "none",
        silent: true,
        lineStyle: { color: "#000", width: 2 },
        z: 1,
      });
      p.data.forEach((arr, k) => {
        const def = symbolDefs[k];
        const col = colors[k + 1];
        series.push({
          type: "scatter",
          name: fields[k + 1],
          xAxisIndex: 4 * g,
          yAxisIndex: 4 * g,
          data: phi.map((x, i) => [x, arr[i]]),
          symbol: def.symbol,
          symbolSize: def.size,
          symbolKeepAspect: true,
          silent: true,
          itemStyle: def.open
            ? { color: "rgba(0,0,0,0)", borderColor: col, borderWidth: 1.35, opacity: 1 }
            : { color: col, borderWidth: 0, opacity: 1 },
          z: 2 + k * 0.01,
        });
      });
    });

    const txt = (x: number, y: number, text: string, extra: any = {}) => ({
      type: "text",
      x,
      y,
      ...extra,
      style: {
        text,
        fontSize: 26,
        fontFamily: FONT,
        fill: "#000",
        align: "center",
        verticalAlign: "middle",
        ...(extra.style || {}),
      },
    });
    const richBase = {
      n: { fontSize: 26, fontFamily: FONT, lineHeight: 36 },
      i: { fontSize: 26, fontFamily: FONT, fontStyle: "italic", lineHeight: 36 },
      sup: { fontSize: 17, fontFamily: FONT, verticalAlign: "top", lineHeight: 20 },
      sub: { fontSize: 17, fontFamily: FONT, fontStyle: "italic", verticalAlign: "bottom", lineHeight: 20 },
    };
    const richTitle = {
      n: { fontSize: 27, fontFamily: FONT, lineHeight: 36 },
      i: { fontSize: 27, fontFamily: FONT, fontStyle: "italic", lineHeight: 36 },
      sup: { fontSize: 18, fontFamily: FONT, verticalAlign: "top", lineHeight: 20 },
      sub: { fontSize: 18, fontFamily: FONT, fontStyle: "italic", verticalAlign: "bottom", lineHeight: 20 },
    };

    const graphic: any[] = [
      txt(172, 22, "{n|||} {i|a}", { style: { rich: richBase } }),
      txt(345, 22, "{i|T} {n|= 0.1 K}", { style: { rich: richBase } }),
      txt(518, 22, "{n|||} {i|c}", { style: { rich: richBase } }),
      txt(470, 89, "(a)"),
      txt(470, 400, "(b)"),
      txt(470, 723, "(c)"),
      txt(23, 174, "{i|C}{n| / }{i|T}{n| (J / mol K}{sup|2}{n|)}", { rotation: Math.PI / 2, style: { rich: richTitle } }),
      txt(22, 472, "{i|dT}{n|/}{i|dϕ}{sub|H}{n| (mK/deg)}", { rotation: Math.PI / 2, style: { rich: richTitle } }),
      txt(22, 770, "{n|Δ}{i|S}{n| (mJ/mol K)}", { rotation: Math.PI / 2, style: { rich: richTitle } }),
      txt(325, 946, "{i|ϕ}{sub|H}{n| (deg)}", { style: { rich: richTitle } }),
    ];
    fields.forEach((f, k) => {
      const cy = 90 + 32.3 * k;
      graphic.push(txt(642, cy, f, { style: { align: "right" } }));
      legendMarker(k, 669, cy).forEach((m) => graphic.push({ ...m, silent: true }));
    });

    chart.setOption({
      animation: false,
      backgroundColor: "#ffffff",
      grid,
      xAxis,
      yAxis,
      series,
      graphic,
    } as any);
    return () => chart.dispose();
  }, []);
  return (
    <div
      ref={ref}
      style={{ position: "fixed", left: 0, top: 0, width: 692, height: 969, background: "#fff" }}
    />
  );
}
